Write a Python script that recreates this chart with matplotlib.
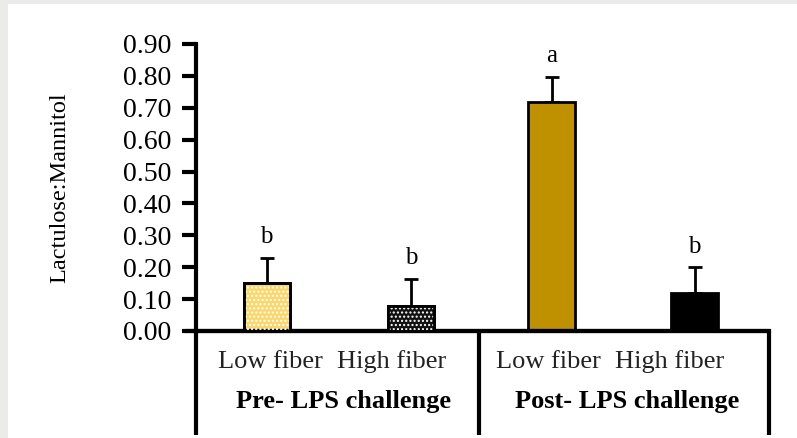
import numpy as np
import matplotlib.pyplot as plt
from matplotlib.patches import Rectangle
from matplotlib.transforms import blended_transform_factory

plt.rcParams['font.family'] = ['Liberation Serif', 'DejaVu Serif']

# data
treatments = ["Low fiber", "High fiber", "Low fiber", "High fiber"]
groups = ["Pre- LPS challenge", "Post- LPS challenge"]
means = [0.15, 0.078, 0.718, 0.118]
errors = [0.08, 0.085, 0.08, 0.082]
letters = ["b", "b", "a", "b"]
yticks = [0.0, 0.1, 0.2, 0.3, 0.4, 0.5, 0.6, 0.7, 0.8, 0.9]

colors = ["#fbd76b", "#111111", "#bf9000", "#000000"]
hatches = ["....", "....", None, None]

fig = plt.figure(figsize=(7.97, 4.38), dpi=100)
fig.patch.set_facecolor("white")
# grey frame of the page
fig.add_artist(Rectangle((0, 0), 8 / 797, 1, transform=fig.transFigure,
                         facecolor="#ebebe9", edgecolor="none"))
fig.add_artist(Rectangle((0, 1 - 4 / 438), 1, 4 / 438, transform=fig.transFigure,
                         facecolor="#ebebe9", edgecolor="none"))

ax = fig.add_axes([196 / 797, 1 - 331 / 438, 573 / 797, 287 / 438])
x = np.array([0.47, 1.5, 2.5, 3.52])
ax.set_xlim(-0.034, 4.05)
ax.set_ylim(0, 0.9)

w = 0.33
for i in range(4):
    ax.bar(x[i], means[i], width=w, color=colors[i], edgecolor="black",
           linewidth=2, zorder=2)
    if hatches[i]:
        ax.bar(x[i], means[i], width=w, color="none", edgecolor="white",
               hatch=hatches[i], linewidth=0, zorder=3)
        ax.bar(x[i], means[i], width=w, color="none", edgecolor="black",
               linewidth=2, zorder=4)
    ax.errorbar(x[i], means[i], yerr=[[0], [errors[i]]], fmt="none",
                ecolor="black", elinewidth=2, capsize=5, capthick=2, zorder=1)
    ax.text(x[i], means[i] + errors[i] + 0.03, letters[i], ha="center",
            va="bottom", fontsize=18)

ax.set_yticks(yticks)
ax.set_yticklabels(["%.2f" % v for v in yticks], fontsize=20)
ax.tick_params(axis="y", direction="out", length=10, width=3, pad=8)
ax.tick_params(axis="x", length=0, labelbottom=False)
ax.set_ylabel("Lactulose:Mannitol", fontsize=17.5)
ax.yaxis.set_label_coords(-0.22, 0.5)

for s in ["top", "right"]:
    ax.spines[s].set_visible(False)
ax.spines["left"].set_linewidth(3)
ax.spines["bottom"].set_linewidth(3)

# bottom grid lines of the group table
tr = blended_transform_factory(ax.transData, ax.transAxes)
ax.plot([-0.034 - 0.08, 4.05], [0, 0], color="black", lw=3, transform=tr,
        clip_on=False, solid_capstyle="butt")
for xv in [-0.034, 1.98, 4.05]:
    ax.plot([xv, xv], [0, -0.362], color="black", lw=3, transform=tr,
            clip_on=False, solid_capstyle="butt")

label_x = [0.5, 1.36, 2.48, 3.34]
for i in range(4):
    ax.text(label_x[i], -0.108, treatments[i], transform=tr, ha="center",
            va="center", fontsize=19, color="#222222")
group_x = [1.02, 3.04]
for j, g in enumerate(groups):
    ax.text(group_x[j], -0.245, g, transform=tr, ha="center",
            va="center", fontsize=19, fontweight="bold")

fig.savefig("out.png", dpi=100)
